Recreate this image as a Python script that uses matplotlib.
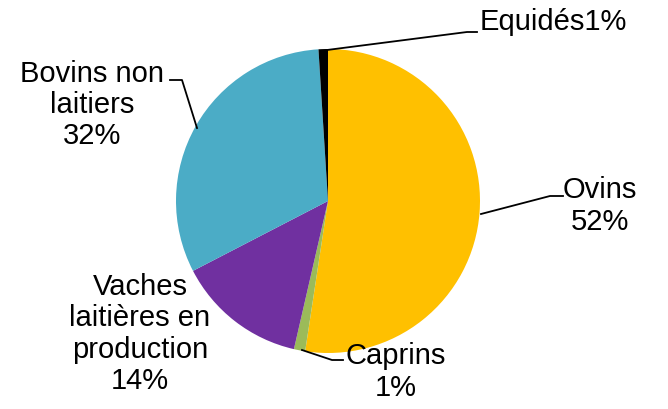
import matplotlib.pyplot as plt

# share of livestock categories
labels = ['Ovins\n52%', 'Caprins\n1%', 'Vaches\nlaitières en\nproduction\n14%',
          'Bovins non\nlaitiers\n32%', 'Equidés1%']
values = [52.4, 1.2, 13.8, 31.6, 1.0]
colors = ['#FFC000', '#9BBB59', '#7030A0', '#4BACC6', '#000000']

W, H = 668, 409
fig = plt.figure(figsize=(W / 100, H / 100), dpi=100)
plt.rcParams['font.family'] = ['Liberation Sans', 'DejaVu Sans']

# pie axes, centre (328, 201) px, radius 152 px
cx, cy, r = 328, 201, 152
ax = fig.add_axes([(cx - r) / W, (H - cy - r) / H, 2 * r / W, 2 * r / H])
ax.pie(values, colors=colors, startangle=90, counterclock=False,
       wedgeprops=dict(linewidth=0), radius=1)
ax.set_xlim(-1, 1)
ax.set_ylim(-1, 1)
ax.set_aspect('equal')
ax.axis('off')

# overlay in pixel coordinates for labels and leaders
ov = fig.add_axes([0, 0, 1, 1])
ov.set_xlim(0, W)
ov.set_ylim(H, 0)
ov.axis('off')

fs = 21
pos = [(600, 206, 'center'), (396, 372, 'center'), (140, 334, 'center'),
       (92, 105, 'center'), (480, 22, 'left')]
for lab, (x, y, ha) in zip(labels, pos):
    ov.text(x, y, lab, fontsize=fs, ha=ha, va='center', linespacing=1.15,
            color='black')

leaders = [
    [(481, 214), (550, 196), (563, 196)],
    [(302, 350), (332, 360), (343, 360)],
    [(197, 128), (182, 80), (170, 80)],
    [(327, 50), (467, 32), (477, 32)],
]
for pts in leaders:
    xs = [p[0] for p in pts]
    ys = [p[1] for p in pts]
    ov.plot(xs, ys, color='black', linewidth=1.3)

plt.savefig('out.png', dpi=100)
